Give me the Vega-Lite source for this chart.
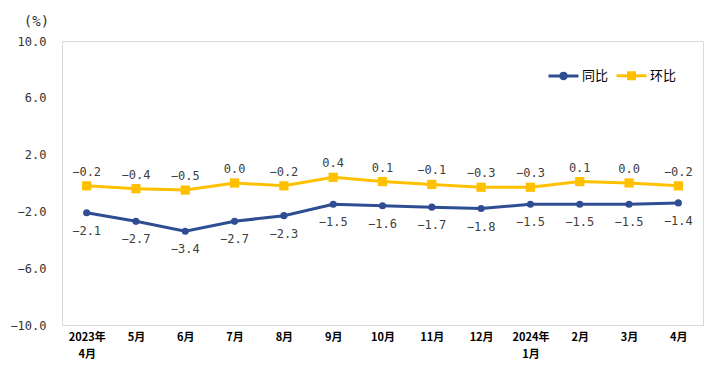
{
  "$schema": "https://vega.github.io/schema/vega-lite/v6.json",
  "width": 641,
  "height": 284,
  "autosize": "none",
  "padding": {"left": 62, "top": 41, "right": 13, "bottom": 51},
  "background": "white",
  "config": {
    "view": {"stroke": "#d9d9d9", "strokeWidth": 1},
    "font": "Noto Sans CJK SC"
  },
  "data": {
    "values": [
      {"month": "2023年|4月", "series": "同比", "value": -2.1},
      {"month": "5月", "series": "同比", "value": -2.7},
      {"month": "6月", "series": "同比", "value": -3.4},
      {"month": "7月", "series": "同比", "value": -2.7},
      {"month": "8月", "series": "同比", "value": -2.3},
      {"month": "9月", "series": "同比", "value": -1.5},
      {"month": "10月", "series": "同比", "value": -1.6},
      {"month": "11月", "series": "同比", "value": -1.7},
      {"month": "12月", "series": "同比", "value": -1.8},
      {"month": "2024年|1月", "series": "同比", "value": -1.5},
      {"month": "2月", "series": "同比", "value": -1.5},
      {"month": "3月", "series": "同比", "value": -1.5},
      {"month": "4月", "series": "同比", "value": -1.4},
      {"month": "2023年|4月", "series": "环比", "value": -0.2},
      {"month": "5月", "series": "环比", "value": -0.4},
      {"month": "6月", "series": "环比", "value": -0.5},
      {"month": "7月", "series": "环比", "value": 0.0},
      {"month": "8月", "series": "环比", "value": -0.2},
      {"month": "9月", "series": "环比", "value": 0.4},
      {"month": "10月", "series": "环比", "value": 0.1},
      {"month": "11月", "series": "环比", "value": -0.1},
      {"month": "12月", "series": "环比", "value": -0.3},
      {"month": "2024年|1月", "series": "环比", "value": -0.3},
      {"month": "2月", "series": "环比", "value": 0.1},
      {"month": "3月", "series": "环比", "value": 0.0},
      {"month": "4月", "series": "环比", "value": -0.2}
    ]
  },
  "encoding": {
    "x": {
      "field": "month",
      "type": "ordinal",
      "sort": null,
      "scale": {"paddingInner": 0, "paddingOuter": 0},
      "axis": {
        "title": null,
        "labelAngle": 0,
        "labelExpr": "split(datum.value, '|')",
        "labelFont": "Noto Sans CJK SC",
        "labelFontWeight": "bold",
        "labelFontSize": 11,
        "labelColor": "#000000",
        "labelPadding": 6,
        "labelLineHeight": 17,
        "ticks": false,
        "domainColor": "#d9d9d9",
        "grid": false
      }
    },
    "y": {
      "field": "value",
      "type": "quantitative",
      "scale": {"domain": [-10, 10], "nice": false, "zero": false},
      "axis": {
        "values": [-10, -6, -2, 2, 6, 10],
        "format": ".1f",
        "title": "(%)",
        "titleAngle": 0,
        "titleX": -26,
        "titleY": -20,
        "titleAlign": "center",
        "titleBaseline": "middle",
        "titleFont": "DejaVu Sans Mono",
        "titleFontWeight": "normal",
        "titleFontSize": 14,
        "titleColor": "#333333",
        "labelFont": "DejaVu Sans Mono",
        "labelFontSize": 12,
        "labelColor": "#333333",
        "labelPadding": 16,
        "ticks": false,
        "domainColor": "#d9d9d9",
        "grid": false
      }
    }
  },
  "layer": [
    {
      "data": {"values": [{"z": 0}]},
      "mark": {"type": "rule", "color": "#d9d9d9", "strokeWidth": 1.5},
      "encoding": {"y": {"datum": 0}, "x": null}
    },
    {
      "mark": {"type": "line", "strokeWidth": 3},
      "encoding": {
        "color": {
          "field": "series",
          "type": "nominal",
          "sort": ["同比", "环比"],
          "scale": {"domain": ["同比", "环比"], "range": ["#2E4D93", "#FFC000"]},
          "legend": {
            "title": null,
            "orient": "none",
            "direction": "horizontal",
            "legendX": 495,
            "legendY": 28,
            "symbolSize": 100,
            "labelFont": "Noto Sans CJK SC",
            "labelFontSize": 13,
            "labelColor": "#000000",
            "labelOffset": 12,
            "columnPadding": 1,
            "encode": {
              "symbols": {
                "update": {
                  "shape": {"signal": "datum.value === '同比' ? 'M-3,0H3M-0.55,0A0.55,0.55,0,1,0,0.55,0A0.55,0.55,0,1,0,-0.55,0' : 'M-3,0H3M-0.6,-0.6H0.6V0.6H-0.6Z'"},
                  "stroke": {"signal": "scale('color', datum.value)"},
                  "fill": {"signal": "scale('color', datum.value)"},
                  "strokeWidth": {"value": 3},
                  "fillOpacity": {"value": 1},
                  "strokeOpacity": {"value": 1}
                }
              }
            }
          }
        }
      }
    },
    {
      "transform": [{"filter": "datum.series === '同比'"}],
      "mark": {"type": "point", "filled": true, "opacity": 1, "shape": "circle", "size": 50},
      "encoding": {
        "color": {"field": "series", "type": "nominal", "legend": null}
      }
    },
    {
      "transform": [{"filter": "datum.series === '环比'"}],
      "mark": {"type": "point", "filled": true, "opacity": 1, "shape": "square", "size": 85},
      "encoding": {
        "color": {"field": "series", "type": "nominal", "legend": null}
      }
    },
    {
      "transform": [{"filter": "datum.series === '同比'"}],
      "mark": {"type": "text", "dy": 18, "fontSize": 12, "font": "DejaVu Sans Mono", "color": "#404040"},
      "encoding": {"text": {"field": "value", "type": "quantitative", "format": ".1f"}}
    },
    {
      "transform": [{"filter": "datum.series === '环比'"}],
      "mark": {"type": "text", "dy": -14, "fontSize": 12, "font": "DejaVu Sans Mono", "color": "#404040"},
      "encoding": {"text": {"field": "value", "type": "quantitative", "format": ".1f"}}
    }
  ]
}
